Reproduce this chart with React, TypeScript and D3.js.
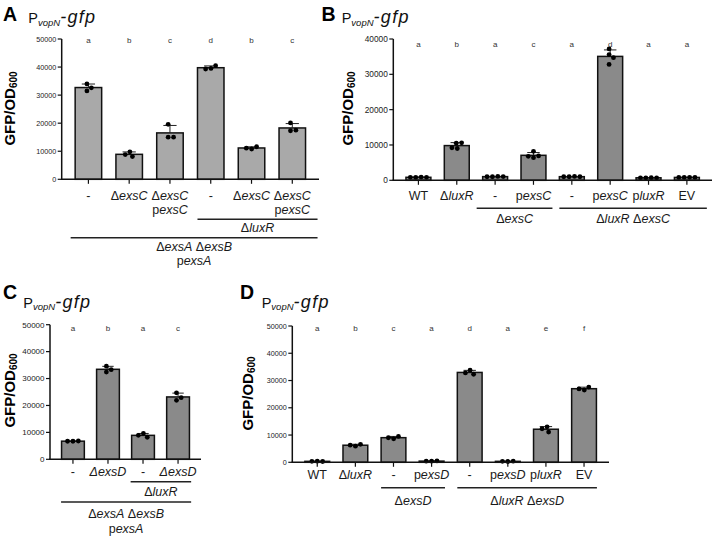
import React from "react"
import * as d3 from "d3"

const FONT = "'Liberation Sans', Arial, Helvetica, sans-serif"

// Panel A: ΔexsA ΔexsB pexsA background
const catsA = [["-"], ["Δ_exsC_"], ["Δ_exsC_", "p_exsC_"], ["-"], ["Δ_exsC_"], ["Δ_exsC_", "p_exsC_"]]
const repsA = [
  [34000, 31500, 32600],
  [9800, 8100, 8800],
  [19600, 15000, 15000],
  [39500, 40500, 39300],
  [10800, 11600, 11100],
  [20100, 17300, 17500],
]
const lettersA = ["a", "b", "c", "d", "b", "c"]
const groupsA = [
  { from: 3, to: 5, label: ["Δ_luxR_"] },
  { from: 0, to: 5, label: ["Δ_exsA_ Δ_exsB_", "p_exsA_"] },
]
const ticksA = [0, 10000, 20000, 30000, 40000, 50000]

// Panel B
const catsB = [["WT"], ["Δ_luxR_"], ["-"], ["p_exsC_"], ["-"], ["p_exsC_"], ["p_luxR_"], ["EV"]]
const repsB = [
  [800, 900, 850, 850],
  [10500, 10600, 9000, 9200],
  [1000, 1100, 1000, 1050],
  [8200, 6400, 6900, 6800],
  [1000, 1100, 1000, 1000],
  [37200, 35600, 34700, 32800],
  [700, 750, 700, 700],
  [800, 850, 800, 800],
]
const lettersB = ["a", "b", "a", "c", "a", "d", "a", "a"]
const groupsB = [
  { from: 2, to: 3, label: ["Δ_exsC_"] },
  { from: 4, to: 7, label: ["Δ_luxR_ Δ_exsC_"] },
]
const ticksB = [0, 10000, 20000, 30000, 40000]

// Panel C
const catsC = [["-"], ["_ΔexsD_"], ["-"], ["_ΔexsD_"]]
const repsC = [
  [6700, 6800, 6700],
  [34600, 32400, 33300],
  [9600, 8200, 8900],
  [24700, 21900, 22900],
]
const lettersC = ["a", "b", "a", "c"]
const groupsC = [
  { from: 2, to: 3, label: ["Δ_luxR_"] },
  { from: 0, to: 3, label: ["Δ_exsA_ Δ_exsB_", "p_exsA_"] },
]
const ticksC = [0, 10000, 20000, 30000, 40000, 50000]

// Panel D
const catsD = [["WT"], ["Δ_luxR_"], ["-"], ["p_exsD_"], ["-"], ["p_exsD_"], ["p_luxR_"], ["EV"]]
const repsD = [
  [400, 300, 350],
  [5900, 6600, 6300],
  [8600, 9500, 9000],
  [400, 500, 400],
  [33800, 32300, 32800],
  [300, 400, 350],
  [13000, 11100, 12300],
  [26500, 27600, 26900],
]
const lettersD = ["a", "b", "c", "a", "d", "a", "e", "f"]
const groupsD = [
  { from: 2, to: 3, label: ["Δ_exsD_"] },
  { from: 4, to: 7, label: ["Δ_luxR_ Δ_exsD_"] },
]
const ticksD = [0, 10000, 20000, 30000, 40000, 50000]

type Group = { from: number; to: number; label: string[] }
type Row = { y: number; labelY: number; padL: number; padR: number }
type Layout = {
  x0: number
  x1: number
  yTop: number
  yBase: number
  max: number
  fill: string
  tickFont: number
  letterY: number
  catY: number
  yLabel: [number, number]
  title: { letter: string; x: number; y: number; px: number; py: number }
  rows: Row[]
}

const layA: Layout = {
  x0: 61.7, x1: 319, yTop: 39, yBase: 179.3, max: 50000, fill: "#a9a9a9", tickFont: 7.2,
  letterY: 43, catY: 199.5, yLabel: [15, 108.5],
  title: { letter: "A", x: 3, y: 21, px: 28.3, py: 23.3 },
  rows: [
    { y: 219.3, labelY: 231.7, padL: 0, padR: 12 },
    { y: 237.7, labelY: 250.7, padL: 4.5, padR: 12 },
  ],
}
const layB: Layout = {
  x0: 393.3, x1: 712, yTop: 39, yBase: 180.3, max: 40000, fill: "#8a8a8a", tickFont: 8.3,
  letterY: 46.5, catY: 199.5, yLabel: [353, 108.5],
  title: { letter: "B", x: 321.5, y: 21, px: 341.7, py: 23.3 },
  rows: [
    { y: 208.3, labelY: 222.7, padL: 6, padR: 6.5 },
    { y: 208.3, labelY: 222.7, padL: 0, padR: 7.5 },
  ],
}
const layC: Layout = {
  x0: 50, x1: 201, yTop: 324.7, yBase: 459.3, max: 50000, fill: "#8a8a8a", tickFont: 8,
  letterY: 330.5, catY: 476, yLabel: [15, 390.5],
  title: { letter: "C", x: 3, y: 298.7, px: 23.3, py: 308 },
  rows: [
    { y: 481.7, labelY: 496, padL: 1, padR: 1.7 },
    { y: 502, labelY: 518.3, padL: 0.5, padR: 1.7 },
  ],
}
const layD: Layout = {
  x0: 292.3, x1: 609, yTop: 326, yBase: 462.3, max: 50000, fill: "#8a8a8a", tickFont: 7.2,
  letterY: 330.5, catY: 479, yLabel: [253, 393.5],
  title: { letter: "D", x: 240, y: 298.7, px: 261.7, py: 308 },
  rows: [
    { y: 487.7, labelY: 505, padL: 0, padR: 1 },
    { y: 487.7, labelY: 505, padL: 0, padR: 0.5 },
  ],
}

// text with _italic_ segments
function Rich({ s, ...rest }: { s: string } & React.SVGProps<SVGTextElement>) {
  const parts = s.split("_")
  return (
    <text {...rest}>
      {parts.map((p, i) => (
        <tspan key={i} fontStyle={i % 2 ? "italic" : "normal"}>
          {p}
        </tspan>
      ))}
    </text>
  )
}

// simple beeswarm: horizontal offsets so dots don't overlap
function swarm(ys: number[], d: number): number[] {
  const placed: { x: number; y: number }[] = []
  for (const y of ys) {
    const cands = [0]
    for (const p of placed) {
      const dy = Math.abs(p.y - y)
      if (dy < d) {
        const dx = Math.sqrt(d * d - dy * dy)
        cands.push(p.x + dx, p.x - dx)
      }
    }
    cands.sort((a, b) => Math.abs(a) - Math.abs(b))
    const ok = cands.find((c) =>
      placed.every((p) => Math.hypot(p.x - c, p.y - y) >= d - 0.01)
    )
    placed.push({ x: ok ?? 0, y })
  }
  const m = d3.mean(placed, (p) => p.x) ?? 0
  return placed.map((p) => p.x - m)
}

function Panel({
  cats,
  reps,
  letters,
  groups,
  ticks,
  lay,
}: {
  cats: string[][]
  reps: number[][]
  letters: string[]
  groups: Group[]
  ticks: number[]
  lay: Layout
}) {
  const idx = d3.range(cats.length)
  const x = d3
    .scaleBand<number>()
    .domain(idx)
    .range([lay.x0, lay.x1])
    .paddingInner(0.35)
    .paddingOuter(0.33)
  const y = d3.scaleLinear().domain([0, lay.max]).range([lay.yBase, lay.yTop])
  const bw = x.bandwidth()
  const stats = reps.map((r) => ({ mean: d3.mean(r) ?? 0, sd: d3.deviation(r) ?? 0 }))
  const r = 2.4
  const t = lay.title

  return (
    <g fontFamily={FONT}>
      {/* title */}
      <text x={t.x} y={t.y} fontSize={19.5} fontWeight="bold" fill="#000">
        {t.letter}
      </text>
      <text x={t.px} y={t.py} fontSize={14.5} fill="#111">
        P
        <tspan fontSize={9.5} fontStyle="italic" dy={2.3}>
          vopN
        </tspan>
        <tspan fontSize={18} fontStyle="italic" dy={-2.3} letterSpacing={1.3}>
          -gfp
        </tspan>
      </text>

      {/* y label */}
      <text
        transform={`translate(${lay.yLabel[0]},${lay.yLabel[1]}) rotate(-90)`}
        textAnchor="middle"
        fontSize={15}
        fontWeight="bold"
        fill="#000"
      >
        GFP/OD
        <tspan fontSize={10} dy={2}>
          600
        </tspan>
      </text>

      {/* bars */}
      {idx.map((i) => (
        <rect
          key={`b${i}`}
          x={x(i)}
          y={y(stats[i].mean)}
          width={bw}
          height={lay.yBase - y(stats[i].mean)}
          fill={lay.fill}
          stroke="#111"
          strokeWidth={1.5}
        />
      ))}

      {/* error bars (mean + SD) */}
      {idx.map((i) => {
        const cx = (x(i) ?? 0) + bw / 2
        const top = y(stats[i].mean + stats[i].sd)
        const cw = bw * 0.25
        return (
          <g key={`e${i}`} stroke="#222" strokeWidth={1}>
            <line x1={cx} x2={cx} y1={y(stats[i].mean)} y2={top} />
            <line x1={cx - cw} x2={cx + cw} y1={top} y2={top} />
          </g>
        )
      })}

      {/* replicates */}
      {idx.map((i) => {
        const cx = (x(i) ?? 0) + bw / 2
        const ys = reps[i].map((v) => y(v))
        const off = swarm(ys, r * 2 + 0.6)
        return ys.map((yy, k) => (
          <circle key={`d${i}-${k}`} cx={cx + off[k]} cy={yy} r={r} fill="#000" />
        ))
      })}

      {/* significance letters */}
      {idx.map((i) => (
        <text
          key={`l${i}`}
          x={(x(i) ?? 0) + bw / 2}
          y={lay.letterY}
          textAnchor="middle"
          fontSize={8}
          fill="#333"
        >
          {letters[i]}
        </text>
      ))}

      {/* y axis */}
      <line x1={lay.x0} x2={lay.x0} y1={lay.yTop} y2={lay.yBase} stroke="#111" strokeWidth={1.5} />
      {ticks.map((v) => (
        <g key={`t${v}`}>
          <line x1={lay.x0 - 4} x2={lay.x0} y1={y(v)} y2={y(v)} stroke="#111" strokeWidth={1.2} />
          <text
            x={lay.x0 - 5.5}
            y={y(v)}
            dy="0.35em"
            textAnchor="end"
            fontSize={lay.tickFont}
            fill="#222"
          >
            {v}
          </text>
        </g>
      ))}

      {/* x axis */}
      <line x1={lay.x0 - 0.75} x2={lay.x1} y1={lay.yBase} y2={lay.yBase} stroke="#111" strokeWidth={1.5} />
      {idx.map((i) => {
        const cx = (x(i) ?? 0) + bw / 2
        return (
          <line key={`xt${i}`} x1={cx} x2={cx} y1={lay.yBase} y2={lay.yBase + 4.5} stroke="#111" strokeWidth={1.2} />
        )
      })}

      {/* category labels */}
      {idx.map((i) =>
        cats[i].map((s, k) => (
          <Rich
            key={`c${i}-${k}`}
            s={s}
            x={(x(i) ?? 0) + bw / 2}
            y={lay.catY + k * 14}
            textAnchor="middle"
            fontSize={12.5}
            fill="#1a1a1a"
          />
        ))
      )}

      {/* strain background brackets */}
      {groups.map((g, gi) => {
        const row = lay.rows[gi]
        const l = (x(g.from) ?? 0) - row.padL
        const rr = (x(g.to) ?? 0) + bw + row.padR
        const mid = (l + rr) / 2
        return (
          <g key={`g${gi}`}>
            <line x1={l} x2={rr} y1={row.y} y2={row.y} stroke="#222" strokeWidth={1.5} />
            {g.label.map((s, k) => (
              <Rich
                key={k}
                s={s}
                x={mid}
                y={row.labelY + k * 14.5}
                textAnchor="middle"
                fontSize={12.5}
                fill="#1a1a1a"
              />
            ))}
          </g>
        )
      })}
    </g>
  )
}

export default function App() {
  return (
    <svg
      width={714}
      height={536}
      viewBox="0 0 714 536"
      style={{ position: "absolute", left: 0, top: 0, background: "#fff" }}
    >
      <rect width={714} height={536} fill="#fff" />
      <Panel cats={catsA} reps={repsA} letters={lettersA} groups={groupsA} ticks={ticksA} lay={layA} />
      <Panel cats={catsB} reps={repsB} letters={lettersB} groups={groupsB} ticks={ticksB} lay={layB} />
      <Panel cats={catsC} reps={repsC} letters={lettersC} groups={groupsC} ticks={ticksC} lay={layC} />
      <Panel cats={catsD} reps={repsD} letters={lettersD} groups={groupsD} ticks={ticksD} lay={layD} />
    </svg>
  )
}
